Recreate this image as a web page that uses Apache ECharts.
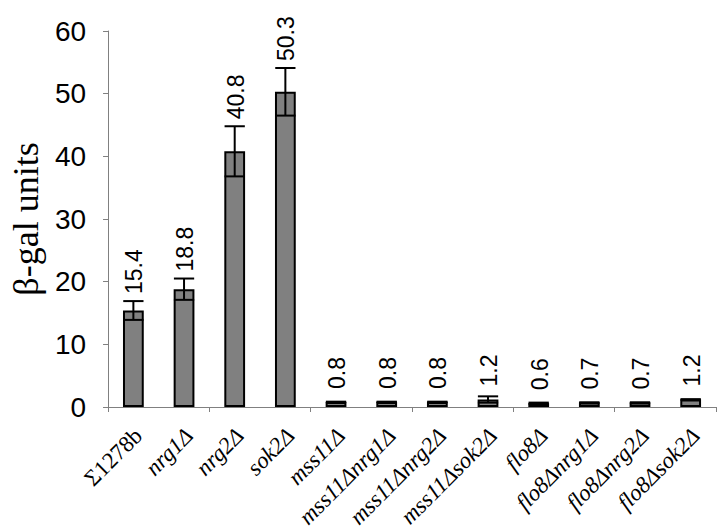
<!DOCTYPE html>
<html>
<head>
<meta charset="utf-8">
<script src="https://cdn.jsdelivr.net/npm/echarts@6/dist/echarts.min.js"></script>
<style>html,body{margin:0;padding:0;background:#fff;}#chart{width:720px;height:531px;}</style>
</head>
<body>
<div id="chart"></div>
<script>
var categories = ['Σ1278b','nrg1Δ','nrg2Δ','sok2Δ','mss11Δ','mss11Δnrg1Δ','mss11Δnrg2Δ','mss11Δsok2Δ','flo8Δ','flo8Δnrg1Δ','flo8Δnrg2Δ','flo8Δsok2Δ'];
var values = [15.4, 18.8, 40.8, 50.3, 0.8, 0.8, 0.8, 1.2, 0.6, 0.7, 0.7, 1.2];
var errors = [1.5, 1.7, 4.0, 3.8, 0.05, 0.05, 0.05, 0.5, 0.1, 0.05, 0.05, 0.05];
var valueLabels = ['15.4','18.8','40.8','50.3','0.8','0.8','0.8','1.2','0.6','0.7','0.7','1.2'];
var yTicks = [0, 10, 20, 30, 40, 50, 60];

var errData = values.map(function (v, i) { return [i, v, errors[i]]; });
var serif = '"Liberation Serif", "Times New Roman", serif';

var chart = echarts.init(document.getElementById('chart'), null, {renderer: 'svg'});
chart.setOption({
  animation: false,
  backgroundColor: '#ffffff',
  grid: {left: 100, right: 4, top: 31, bottom: 124, containLabel: false},
  xAxis: {
    type: 'category',
    data: categories,
    axisLine: {lineStyle: {color: '#808080', width: 1}},
    axisTick: {show: true, length: 5, lineStyle: {color: '#808080'}},
    axisLabel: {show: false}
  },
  yAxis: {
    type: 'value',
    min: 0, max: 60, interval: 10,
    name: 'β-gal units',
    nameLocation: 'middle',
    nameRotate: 90,
    nameGap: 62,
    nameTextStyle: {fontFamily: serif, fontSize: 36, color: '#000'},
    axisLine: {show: true, lineStyle: {color: '#808080', width: 1}},
    axisTick: {show: true, length: 5, lineStyle: {color: '#808080'}},
    splitLine: {show: false},
    axisLabel: {
      margin: 22,
      fontFamily: '"Liberation Sans", Arial, sans-serif',
      fontSize: 28,
      color: '#000',
      formatter: function (v) { return yTicks.indexOf(v) >= 0 ? String(v) : ''; }
    }
  },
  series: [
    {
      type: 'bar',
      data: values,
      barWidth: '41%',
      itemStyle: {color: '#808080', borderColor: '#000', borderWidth: 2},
      z: 2
    },
    {
      type: 'custom',
      data: errData,
      encode: {x: 0, y: 1},
      z: 3,
      clip: false,
      renderItem: function (params, api) {
        var idx = api.value(0), v = api.value(1), e = api.value(2);
        var top = api.coord([idx, v + e]);
        var bot = api.coord([idx, Math.max(0, v - e)]);
        var barTop = api.coord([idx, v]);
        var base = api.coord([idx, 0]);
        var half = api.size([1, 0])[0] * 0.2;
        var ls = {stroke: '#000', lineWidth: 2};
        var labelY = Math.min(barTop[1] - 13, top[1] - 7);
        var name = categories[params.dataIndex];
        var italic = name.indexOf('Σ') !== 0;
        return {
          type: 'group',
          children: [
            {type: 'line', shape: {x1: top[0], y1: top[1], x2: bot[0], y2: bot[1]}, style: ls},
            {type: 'line', shape: {x1: top[0] - half, y1: top[1], x2: top[0] + half, y2: top[1]}, style: ls},
            {type: 'line', shape: {x1: bot[0] - half, y1: bot[1], x2: bot[0] + half, y2: bot[1]}, style: ls},
            {
              type: 'text',
              x: top[0] + 1, y: labelY,
              rotation: Math.PI / 2,
              style: {
                text: valueLabels[params.dataIndex],
                fill: '#000',
                font: '23px "Liberation Sans", Arial, sans-serif',
                align: 'left',
                verticalAlign: 'middle'
              }
            },
            {
              type: 'text',
              x: base[0] + 5, y: base[1] + 25,
              rotation: Math.PI / 4,
              style: {
                text: name,
                fill: '#000',
                font: (italic ? 'italic ' : '') + '23px ' + serif,
                align: 'right',
                verticalAlign: 'middle'
              }
            }
          ]
        };
      }
    }
  ]
});
</script>
</body>
</html>
